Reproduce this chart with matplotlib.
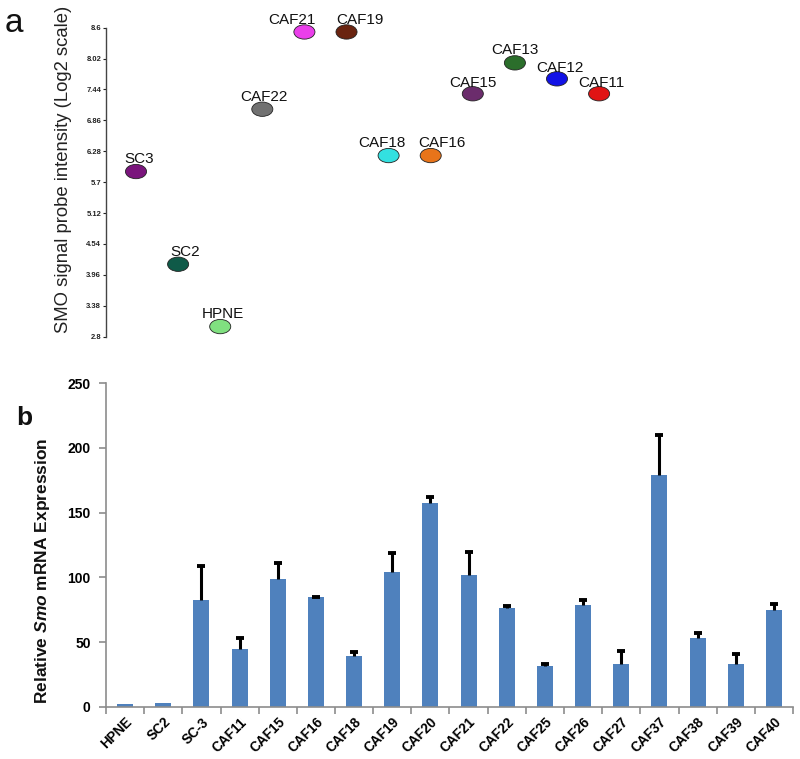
import numpy as np
import matplotlib
matplotlib.use("Agg")
import matplotlib.pyplot as plt
from matplotlib.path import Path
from matplotlib.transforms import Affine2D

plt.rcParams['font.family'] = ['Liberation Sans', 'DejaVu Sans']
plt.rcParams['mathtext.fontset'] = 'custom'
plt.rcParams['mathtext.it'] = 'Liberation Sans:italic:bold'

# ---- Panel a data ----
a_samples = ["SC3", "SC2", "HPNE", "CAF22", "CAF21", "CAF19", "CAF18",
             "CAF16", "CAF15", "CAF13", "CAF12", "CAF11"]
a_values = [5.90, 4.16, 2.99, 7.07, 8.52, 8.52, 6.20, 6.20, 7.36, 7.94, 7.64, 7.36]
a_colors = ["#7a157c", "#0f5a48", "#80e080", "#717171", "#ea3eea", "#6a2410",
            "#33e0e0", "#e8741a", "#6b2c6c", "#2b6e2b", "#1212e6", "#e01414"]
a_ticks = [2.8, 3.38, 3.96, 4.54, 5.12, 5.7, 6.28, 6.86, 7.44, 8.02, 8.6]
# label placement offsets (points) relative to each marker
a_label_dx = [2, 5, 2, 1, -9, 10, -5, 8, 0, 0, 2, 1.5]
a_label_dy = [6.5, 6, 6, 6, 6, 6, 6, 6, 5, 6.5, 5, 5]

# ---- Panel b data ----
b_samples = ["HPNE", "SC2", "SC-3", "CAF11", "CAF15", "CAF16", "CAF18", "CAF19",
             "CAF20", "CAF21", "CAF22", "CAF25", "CAF26", "CAF27", "CAF37",
             "CAF38", "CAF39", "CAF40"]
b_values = [2.0, 2.5, 82.5, 44.4, 98.7, 84.6, 39.0, 104.1, 157.2, 101.6, 76.3,
            31.5, 78.9, 32.8, 178.9, 52.9, 32.8, 75.0]
b_errors = [0, 0, 26.0, 9.0, 12.5, 0.4, 3.3, 14.5, 5.0, 17.7, 1.3, 1.5, 3.8,
            10.0, 31.0, 3.8, 8.2, 4.2]
b_yticks = [0, 50, 100, 150, 200, 250]

W, H = 800, 759
fig = plt.figure(figsize=(W / 100, H / 100), dpi=100)

def fx(px):
    return px / W

def fy(py):
    return 1 - py / H

# ---------- Panel a ----------
axa = fig.add_axes([fx(106), fy(336.7), fx(792) - fx(106), fy(27.7) - fy(336.7)])
x_idx = np.arange(len(a_samples))
ell = Path.unit_circle().transformed(Affine2D().scale(1.0, 0.68))
axa.scatter(x_idx, a_values, s=230, marker=ell, c=a_colors,
            edgecolors="#222222", linewidths=0.6, zorder=3, clip_on=False)
for xi, v, name, dx, dy in zip(x_idx, a_values, a_samples, a_label_dx, a_label_dy):
    axa.annotate(name, (xi, v), xytext=(dx, dy), textcoords="offset points",
                 ha="center", va="baseline", fontsize=11, color="#111111")
axa.set_xlim(-0.713, (792 - 136) / 42.1)
axa.set_ylim(2.8, 8.6)
axa.set_yticks(a_ticks)
axa.set_yticklabels([f"{t:g}" for t in a_ticks], fontsize=5.5, fontweight="bold")
axa.tick_params(axis="y", length=2.5, width=0.8, pad=1, colors="#222222")
axa.set_xticks([])
for s in ["top", "right", "bottom"]:
    axa.spines[s].set_visible(False)
axa.spines["left"].set_color("#444444")
axa.spines["left"].set_linewidth(1.0)
fig.text(fx(64), fy(169), "SMO signal probe intensity (Log2 scale)", rotation=90,
         ha="center", va="center", fontsize=13.3, color="#222222")
fig.text(fx(5), fy(32), "a", fontsize=24, ha="left", va="baseline", color="#111111")

# ---------- Panel b ----------
axb = fig.add_axes([fx(106), fy(706.7), fx(793) - fx(106), fy(383.3) - fy(706.7)])
xb = np.arange(len(b_samples))
vals = np.array(b_values)
errs = np.array(b_errors)
axb.bar(xb, vals, width=0.42, color="#4f81bd", zorder=2)
axb.vlines(xb, vals, vals + errs, color="black", linewidth=2.2, zorder=3)
has_err = errs > 0
axb.plot(xb[has_err], (vals + errs)[has_err], linestyle="none", marker="_",
         markersize=6, markeredgewidth=2.8, color="black", zorder=3)
axb.set_xlim(-0.5, len(b_samples) - 0.5)
axb.set_ylim(0, 250)
axb.set_yticks(b_yticks)
axb.set_yticklabels([str(t) for t in b_yticks], fontsize=10, fontweight="bold")
axb.set_xticks(xb)
axb.set_xticklabels(b_samples, rotation=45, ha="right", rotation_mode="anchor",
                    fontsize=9.8, fontweight="bold")
axb.set_xticks(np.arange(-0.5, len(b_samples)), minor=True)
axb.tick_params(axis="x", which="major", length=0, pad=6)
axb.tick_params(axis="x", which="minor", length=5, width=1.2, color="#8c8c8c")
axb.tick_params(axis="y", length=5, width=1.2, color="#8c8c8c", pad=6)
for s in ["top", "right"]:
    axb.spines[s].set_visible(False)
for s in ["left", "bottom"]:
    axb.spines[s].set_color("#8c8c8c")
    axb.spines[s].set_linewidth(1.2)
fig.text(fx(43), fy(571), r"Relative $\mathit{Smo}$ mRNA Expression", rotation=90,
         ha="center", va="center", fontsize=12.5, fontweight="bold", color="#111111")
fig.text(fx(16), fy(425), "b", fontsize=19, fontweight="bold", ha="left",
         va="baseline", color="#111111")

fig.savefig("out.png", dpi=100)
